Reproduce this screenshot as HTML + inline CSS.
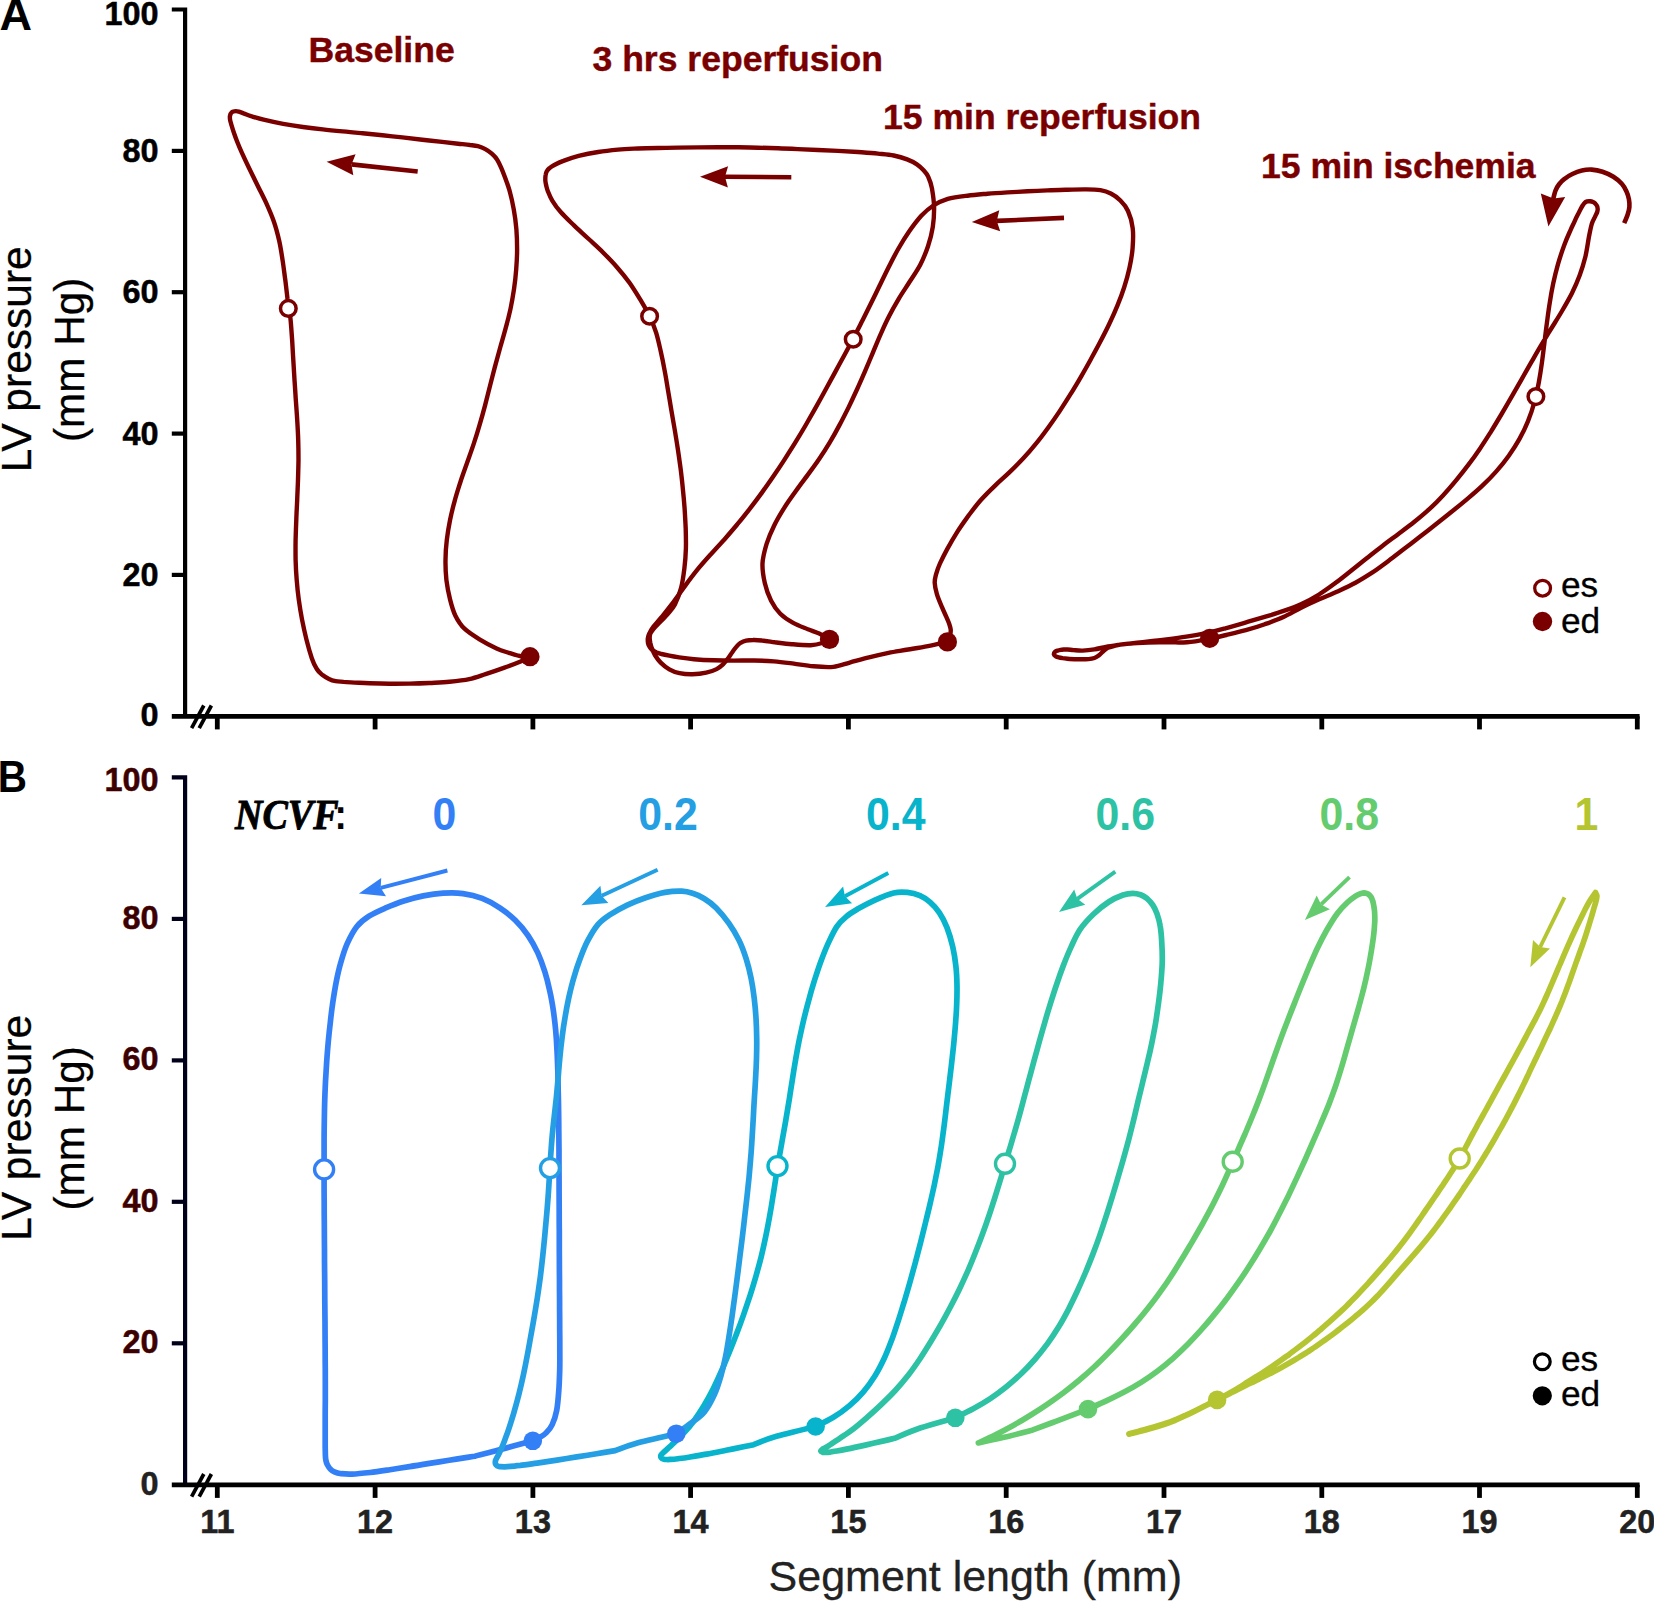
<!DOCTYPE html>
<html lang="en"><head><meta charset="utf-8"><title>LV pressure - segment length loops</title>
<style>html,body{margin:0;padding:0;background:#fff}body{width:1654px;height:1601px;overflow:hidden}svg{display:block}text{font-family:"Liberation Sans",sans-serif}.b{font-weight:bold}.ser{font-family:"Liberation Serif","DejaVu Serif",serif}</style></head><body>
<svg width="1654" height="1601" viewBox="0 0 1654 1601">
<rect width="1654" height="1601" fill="#fff"/>
<path d="M171.8 9.5H185.1V716.3" fill="none" stroke="#000" stroke-width="4.2"/><line x1="171.8" y1="150.9" x2="185.1" y2="150.9" stroke="#000" stroke-width="4.2"/><line x1="171.8" y1="292.2" x2="185.1" y2="292.2" stroke="#000" stroke-width="4.2"/><line x1="171.8" y1="433.6" x2="185.1" y2="433.6" stroke="#000" stroke-width="4.2"/><line x1="171.8" y1="574.9" x2="185.1" y2="574.9" stroke="#000" stroke-width="4.2"/><line x1="171.8" y1="716.3" x2="1639.6" y2="716.3" stroke="#000" stroke-width="4.8"/><line x1="217.3" y1="716.3" x2="217.3" y2="729.4" stroke="#000" stroke-width="4.8"/><line x1="375.1" y1="716.3" x2="375.1" y2="729.4" stroke="#000" stroke-width="4.8"/><line x1="532.9" y1="716.3" x2="532.9" y2="729.4" stroke="#000" stroke-width="4.8"/><line x1="690.6" y1="716.3" x2="690.6" y2="729.4" stroke="#000" stroke-width="4.8"/><line x1="848.4" y1="716.3" x2="848.4" y2="729.4" stroke="#000" stroke-width="4.8"/><line x1="1006.2" y1="716.3" x2="1006.2" y2="729.4" stroke="#000" stroke-width="4.8"/><line x1="1164" y1="716.3" x2="1164" y2="729.4" stroke="#000" stroke-width="4.8"/><line x1="1321.8" y1="716.3" x2="1321.8" y2="729.4" stroke="#000" stroke-width="4.8"/><line x1="1479.5" y1="716.3" x2="1479.5" y2="729.4" stroke="#000" stroke-width="4.8"/><line x1="1637.3" y1="716.3" x2="1637.3" y2="729.4" stroke="#000" stroke-width="4.8"/><line x1="191.6" y1="728.1" x2="203.8" y2="705.5" stroke="#000" stroke-width="3.7"/><line x1="199.2" y1="728.1" x2="211.4" y2="705.5" stroke="#000" stroke-width="3.7"/><text class="b" transform="translate(158.6 25.2) scale(0.995 1)" font-size="32.6" text-anchor="end" fill="#000" stroke="#000" stroke-width="0.5">100</text><text class="b" transform="translate(158.6 162.1) scale(0.995 1)" font-size="32.6" text-anchor="end" fill="#000" stroke="#000" stroke-width="0.5">80</text><text class="b" transform="translate(158.6 302.8) scale(0.995 1)" font-size="32.6" text-anchor="end" fill="#000" stroke="#000" stroke-width="0.5">60</text><text class="b" transform="translate(158.6 444.5) scale(0.995 1)" font-size="32.6" text-anchor="end" fill="#000" stroke="#000" stroke-width="0.5">40</text><text class="b" transform="translate(158.6 585.9) scale(0.995 1)" font-size="32.6" text-anchor="end" fill="#000" stroke="#000" stroke-width="0.5">20</text><text class="b" transform="translate(158.6 725.8) scale(0.995 1)" font-size="32.6" text-anchor="end" fill="#000" stroke="#000" stroke-width="0.5">0</text>
<path d="M171.8 777.4H185.1V1484.8" fill="none" stroke="#00001a" stroke-width="4.2"/><line x1="171.8" y1="918.9" x2="185.1" y2="918.9" stroke="#00001a" stroke-width="4.2"/><line x1="171.8" y1="1060.4" x2="185.1" y2="1060.4" stroke="#00001a" stroke-width="4.2"/><line x1="171.8" y1="1201.8" x2="185.1" y2="1201.8" stroke="#00001a" stroke-width="4.2"/><line x1="171.8" y1="1343.3" x2="185.1" y2="1343.3" stroke="#00001a" stroke-width="4.2"/><line x1="171.8" y1="1484.8" x2="1639.6" y2="1484.8" stroke="#000" stroke-width="4.8"/><line x1="217.3" y1="1484.8" x2="217.3" y2="1497.9" stroke="#000" stroke-width="4.8"/><line x1="375.1" y1="1484.8" x2="375.1" y2="1497.9" stroke="#000" stroke-width="4.8"/><line x1="532.9" y1="1484.8" x2="532.9" y2="1497.9" stroke="#000" stroke-width="4.8"/><line x1="690.6" y1="1484.8" x2="690.6" y2="1497.9" stroke="#000" stroke-width="4.8"/><line x1="848.4" y1="1484.8" x2="848.4" y2="1497.9" stroke="#000" stroke-width="4.8"/><line x1="1006.2" y1="1484.8" x2="1006.2" y2="1497.9" stroke="#000" stroke-width="4.8"/><line x1="1164" y1="1484.8" x2="1164" y2="1497.9" stroke="#000" stroke-width="4.8"/><line x1="1321.8" y1="1484.8" x2="1321.8" y2="1497.9" stroke="#000" stroke-width="4.8"/><line x1="1479.5" y1="1484.8" x2="1479.5" y2="1497.9" stroke="#000" stroke-width="4.8"/><line x1="1637.3" y1="1484.8" x2="1637.3" y2="1497.9" stroke="#000" stroke-width="4.8"/><line x1="191.6" y1="1496.6" x2="203.8" y2="1474" stroke="#000" stroke-width="3.7"/><line x1="199.2" y1="1496.6" x2="211.4" y2="1474" stroke="#000" stroke-width="3.7"/><text class="b" transform="translate(158.6 790.6) scale(0.995 1)" font-size="32.6" text-anchor="end" fill="#3d0000" stroke="#3d0000" stroke-width="0.5">100</text><text class="b" transform="translate(158.6 928.9) scale(0.995 1)" font-size="32.6" text-anchor="end" fill="#3d0000" stroke="#3d0000" stroke-width="0.5">80</text><text class="b" transform="translate(158.6 1069.6) scale(0.995 1)" font-size="32.6" text-anchor="end" fill="#3d0000" stroke="#3d0000" stroke-width="0.5">60</text><text class="b" transform="translate(158.6 1211.8) scale(0.995 1)" font-size="32.6" text-anchor="end" fill="#3d0000" stroke="#3d0000" stroke-width="0.5">40</text><text class="b" transform="translate(158.6 1353.3) scale(0.995 1)" font-size="32.6" text-anchor="end" fill="#3d0000" stroke="#3d0000" stroke-width="0.5">20</text><text class="b" transform="translate(158.6 1495.1) scale(0.995 1)" font-size="32.6" text-anchor="end" fill="#222" stroke="#222" stroke-width="0.5">0</text><text class="b" transform="translate(217.3 1533.2) scale(0.995 1)" font-size="32.6" text-anchor="middle" fill="#222" stroke="#222" stroke-width="0.5">11</text><text class="b" transform="translate(375.1 1533.2) scale(0.995 1)" font-size="32.6" text-anchor="middle" fill="#222" stroke="#222" stroke-width="0.5">12</text><text class="b" transform="translate(532.9 1533.2) scale(0.995 1)" font-size="32.6" text-anchor="middle" fill="#222" stroke="#222" stroke-width="0.5">13</text><text class="b" transform="translate(690.6 1533.2) scale(0.995 1)" font-size="32.6" text-anchor="middle" fill="#222" stroke="#222" stroke-width="0.5">14</text><text class="b" transform="translate(848.4 1533.2) scale(0.995 1)" font-size="32.6" text-anchor="middle" fill="#222" stroke="#222" stroke-width="0.5">15</text><text class="b" transform="translate(1006.2 1533.2) scale(0.995 1)" font-size="32.6" text-anchor="middle" fill="#222" stroke="#222" stroke-width="0.5">16</text><text class="b" transform="translate(1164 1533.2) scale(0.995 1)" font-size="32.6" text-anchor="middle" fill="#222" stroke="#222" stroke-width="0.5">17</text><text class="b" transform="translate(1321.8 1533.2) scale(0.995 1)" font-size="32.6" text-anchor="middle" fill="#222" stroke="#222" stroke-width="0.5">18</text><text class="b" transform="translate(1479.5 1533.2) scale(0.995 1)" font-size="32.6" text-anchor="middle" fill="#222" stroke="#222" stroke-width="0.5">19</text><text class="b" transform="translate(1637.3 1533.2) scale(0.995 1)" font-size="32.6" text-anchor="middle" fill="#222" stroke="#222" stroke-width="0.5">20</text>
<text transform="translate(31 359.3) rotate(-90)" font-size="42.8" text-anchor="middle" fill="#000" stroke="#000" stroke-width="0.3" textLength="226" lengthAdjust="spacingAndGlyphs">LV pressure</text><text transform="translate(83.5 359.8) rotate(-90)" font-size="42.3" text-anchor="middle" fill="#000" stroke="#000" stroke-width="0.3">(mm Hg)</text>
<text transform="translate(31 1127.8) rotate(-90)" font-size="42.8" text-anchor="middle" fill="#000" stroke="#000" stroke-width="0.3" textLength="226" lengthAdjust="spacingAndGlyphs">LV pressure</text><text transform="translate(83.5 1128.3) rotate(-90)" font-size="42.3" text-anchor="middle" fill="#000" stroke="#000" stroke-width="0.3">(mm Hg)</text>
<text class="b" x="-0.6" y="29.6" font-size="45" fill="#000">A</text>
<text class="b" transform="translate(-2.2 791.6) scale(0.9 1)" font-size="45" fill="#000">B</text>
<text x="975.3" y="1590.5" font-size="43" text-anchor="middle" fill="#222" stroke="#222" stroke-width="0.3">Segment length (mm)</text>
<path d="M530 656.7C528.5 657.4 525.4 659.4 521.2 661.2C516.9 663 510.4 665.5 504.5 667.6C498.5 669.8 491.4 672.2 485.5 674.1C479.7 676 475.3 677.8 469.3 679.1C463.3 680.4 456.1 681.1 449.5 681.7C442.9 682.3 436.2 682.6 429.6 683C422.9 683.3 416.2 683.5 409.6 683.6C402.9 683.7 396.2 683.8 389.6 683.7C382.9 683.7 375.4 683.5 369.6 683.3C363.7 683.1 358.9 682.8 354.6 682.6C350.2 682.4 346.7 682.1 343.6 681.9C340.4 681.6 338.1 681.6 335.6 681.1C333.2 680.6 331.3 680 329 678.9C326.8 677.9 324.2 676.4 322.2 674.8C320.2 673.1 318.5 671.8 316.8 669C315 666.3 313.5 663.2 311.8 658.2C310.1 653.2 307.9 645.4 306.3 639C304.7 632.5 303.3 626 302 619.4C300.8 612.9 299.7 606.3 298.8 599.7C297.9 593.1 297.2 586.4 296.7 579.8C296.1 573.1 295.8 566.5 295.6 559.8C295.5 553.2 295.5 546.5 295.6 539.8C295.8 533.2 296 526.5 296.3 519.8C296.5 513.2 296.9 506.5 297.2 499.8C297.4 493.2 297.8 486.5 298 479.9C298.2 473.2 298.4 466.5 298.5 459.9C298.5 453.2 298.4 446.5 298.2 439.9C298 433.2 297.6 426.6 297.2 419.9C296.8 413.2 296.3 406.6 295.8 399.9C295.4 393.3 295 386.6 294.5 380C294.1 373.3 293.7 366.5 293.3 360C292.9 353.5 292.5 346.5 292.2 341C291.8 335.6 291.5 331.1 291.2 327.1C290.9 323.1 290.7 320.1 290.3 317.2C289.9 314.2 289.5 312.5 289 309.4C288.6 306.3 288.2 303.4 287.5 298.7C286.9 293.9 286.2 287.1 285.4 280.8C284.5 274.5 283.7 267.5 282.7 261C281.7 254.4 280.7 247.7 279.3 241.3C277.8 234.8 276.2 228.4 274 222.1C271.9 215.8 269.2 209.7 266.5 203.7C263.8 197.6 260.6 191.7 257.7 185.7C254.8 179.7 251.6 173.2 248.9 167.7C246.2 162.1 243.7 156.7 241.7 152.3C239.7 147.9 238.3 144.5 237 141.2C235.7 138 234.7 135.2 233.9 132.8C233.1 130.4 232.6 128.8 232.1 127.1C231.5 125.3 231 123.6 230.7 122.3C230.3 121 230.2 120.3 230 119.3C229.9 118.4 229.8 117.3 229.9 116.3C230.1 115.4 230.3 114.3 230.8 113.5C231.4 112.7 232.2 112 233.1 111.6C233.9 111.2 235 111.1 236 111.1C237 111.1 237.6 111.3 238.9 111.7C240.2 112.1 241.6 112.6 243.6 113.4C245.7 114.1 247.8 115.1 251.1 116.2C254.5 117.2 258.3 118.4 263.6 119.7C269 121 276.6 122.7 283.2 123.9C289.7 125.1 296.3 126.1 302.9 127C309.5 127.9 316.1 128.7 322.8 129.4C329.4 130.2 336 130.8 342.7 131.4C349.3 132.1 356 132.7 362.6 133.3C369.2 134 375.9 134.6 382.5 135.3C389.1 136 395.8 136.7 402.4 137.4C409 138.1 415.6 138.9 422.3 139.7C428.9 140.4 436.2 141.3 442.1 141.9C448.1 142.6 453.4 143.2 458.1 143.7C462.7 144.2 466.7 144.5 470 145C473.3 145.4 475.3 145.5 477.9 146.2C480.4 146.9 482.9 147.8 485.3 149.1C487.6 150.3 489.9 151.9 491.8 153.6C493.8 155.4 495.3 156.6 497.1 159.6C498.9 162.5 500.6 166.2 502.7 171.3C504.7 176.4 507.5 183.8 509.4 190.1C511.2 196.5 512.6 203 513.8 209.6C515 216.1 515.8 222.8 516.4 229.4C516.9 236 517.1 242.7 517.1 249.4C517.1 256 516.7 262.7 516.2 269.4C515.7 276 515 282.6 514 289.2C513 295.8 511.9 302.4 510.5 308.9C509.1 315.4 507.4 321.9 505.6 328.3C503.9 334.7 502 341.1 500.2 347.5C498.4 354 496.6 360.4 494.9 366.8C493.2 373.3 491.6 379.7 489.9 386.2C488.3 392.7 486.7 399.1 485 405.6C483.3 412 481.5 418.5 479.6 424.9C477.8 431.2 475.8 437.6 473.7 443.9C471.6 450.3 469.3 456.5 467.1 462.8C464.9 469.1 462.6 475.4 460.5 481.7C458.5 488.1 456.4 494.4 454.7 500.9C452.9 507.3 451.3 513.8 450 520.3C448.7 526.8 447.6 533.4 446.8 540.1C446 546.7 445.5 553.4 445.5 560C445.4 566.7 445.7 573.4 446.4 580C447.2 586.6 448.6 593.6 450.1 599.6C451.6 605.5 453 610.8 455.4 615.7C457.8 620.5 460.3 624.7 464.5 628.7C468.7 632.8 475.4 636.8 480.8 640.1C486.1 643.4 491.9 646.3 496.6 648.4C501.3 650.6 505.5 651.7 509 652.9C512.5 654 515 654.8 517.6 655.5C520.2 656.2 522.3 656.8 524.4 657.1C526.4 657.3 529.1 656.8 530 656.7" fill="none" stroke="#7a0000" stroke-width="4.4" stroke-linejoin="round" stroke-linecap="round"/>
<path d="M829.5 639.4C828.3 640 825.5 642.1 822.4 643C819.3 644 815.8 645 810.7 645.2C805.6 645.4 797.8 644.7 791.8 644.2C785.8 643.7 779.9 642.9 774.9 642.3C770 641.6 765.7 640.8 762 640.5C758.4 640.1 755.7 639.9 753.1 640C750.4 640 748.2 640.1 746.1 640.6C744 641.1 742.3 641.8 740.6 642.8C739 643.9 737.7 645.2 736.3 646.9C734.9 648.5 733.4 650.6 732.1 652.5C730.7 654.4 729.6 656.3 728.1 658.3C726.6 660.3 724.9 662.6 723 664.4C721.1 666.2 719.4 667.7 716.6 669.1C713.8 670.5 710.3 671.9 706.2 672.7C702.2 673.6 696.8 674.2 692.4 674.3C687.9 674.4 683.4 674 679.5 673.1C675.7 672.3 672.4 671.1 669.3 669.3C666.1 667.5 663 664.9 660.7 662.6C658.4 660.3 656.7 657.9 655.2 655.5C653.7 653.1 652.7 650.4 651.8 648.2C651 646.1 650.6 644.2 650.2 642.4C649.9 640.6 649.6 638.9 649.7 637.4C649.7 636 649.8 634.9 650.3 633.6C650.9 632.3 651.7 631.1 653 629.5C654.4 627.8 656.1 626.2 658.6 623.6C661 621.1 664.8 617.3 667.5 614.2C670.2 611 672.5 609 674.8 604.7C677 600.3 679.5 594 681.1 587.9C682.7 581.9 683.6 574.9 684.4 568.3C685.2 561.7 685.7 555.1 685.9 548.4C686.1 541.8 685.9 535 685.7 528.4C685.4 521.7 685 515 684.6 508.4C684.1 501.7 683.5 495.1 682.8 488.5C682.2 481.8 681.4 475.2 680.6 468.6C679.7 462 678.8 455.4 677.8 448.8C676.8 442.2 675.7 435.6 674.6 429C673.5 422.5 672.3 415.9 671.2 409.3C670.1 402.7 669 396.2 667.9 389.6C666.8 383 665.8 376.4 664.5 369.9C663.3 363.3 661.9 356.5 660.5 350.3C659.1 344.1 657.9 338.4 656.2 332.8C654.4 327.3 652.7 322.6 650 317C647.4 311.5 643.7 305.3 640.3 299.6C636.8 293.9 633.3 288.2 629.5 282.8C625.6 277.4 621.4 272.2 617 267.2C612.7 262.2 608 257.4 603.3 252.7C598.6 248 593.5 243.5 588.7 239C583.8 234.4 578.7 229.9 574 225.4C569.4 220.9 564.3 216.1 560.7 212C557 207.9 554.5 204.2 552.4 200.8C550.3 197.4 549.1 194.4 548.1 191.8C547 189.2 546.6 187 546.1 185.1C545.7 183.1 545.4 181.8 545.3 180.1C545.3 178.4 545.3 176.6 545.6 175.1C545.8 173.7 546.2 172.5 546.8 171.3C547.4 170.2 548 169.4 549.3 168.3C550.5 167.2 551.9 166.3 554.3 165C556.6 163.8 559.3 162.4 563.4 160.9C567.4 159.3 572.8 157.3 578.6 155.8C584.4 154.4 591.6 153 598.2 152C604.8 150.9 611.4 150.2 618 149.6C624.6 149 631.3 148.8 638 148.5C644.6 148.2 651.3 148.1 658 148C664.6 147.8 671.3 147.7 678 147.6C684.6 147.5 691.3 147.4 698 147.4C704.6 147.3 711.3 147.3 718 147.2C724.6 147.2 731.3 147.3 738 147.3C744.6 147.4 751.3 147.5 758 147.7C764.6 147.9 771.3 148.1 778 148.3C784.6 148.5 791.3 148.8 797.9 149.1C804.6 149.4 811.3 149.7 817.9 150C824.6 150.3 831.3 150.6 837.9 150.9C844.6 151.3 851.3 151.6 857.9 152C864.6 152.5 871.9 153 877.9 153.6C883.8 154.2 888.9 154.5 893.7 155.5C898.6 156.5 903.3 157.9 907.1 159.4C911 160.9 914.1 162.5 916.9 164.3C919.6 166.1 921.7 168.2 923.6 170.2C925.5 172.3 926.9 173.7 928.2 176.7C929.6 179.7 930.9 183.1 931.9 188.1C932.8 193.2 933.9 200.6 934.1 207C934.2 213.5 933.8 220.4 932.8 226.9C931.8 233.4 930.1 239.9 928 246.2C925.9 252.4 923.4 258.6 920.4 264.5C917.4 270.4 913.4 275.9 909.8 281.5C906.3 287.1 902.4 292.6 899 298.3C895.6 304 892.3 309.8 889.3 315.8C886.2 321.7 883.5 327.8 880.8 333.8C878.1 339.9 875.6 346.1 873 352.3C870.4 358.4 867.9 364.6 865.3 370.7C862.6 376.9 860 383 857.2 389C854.4 395.1 851.6 401.1 848.7 407.1C845.7 413.1 842.7 419.1 839.6 424.9C836.5 430.8 833.2 436.7 829.8 442.4C826.4 448.1 822.8 453.7 819 459.2C815.3 464.7 811.3 470 807.4 475.4C803.4 480.8 799.3 486.1 795.5 491.6C791.6 497 787.7 502.4 784.1 508.1C780.6 513.7 777.1 519.5 774.2 525.5C771.3 531.4 768.6 537.6 766.6 543.9C764.7 550.2 762.8 556.9 762.5 563.4C762.2 569.9 763.4 576.8 764.8 583.1C766.2 589.3 768.5 595.7 771.1 600.8C773.7 605.9 776.6 610.1 780.3 613.8C784 617.5 788.6 620.4 793.2 622.9C797.8 625.5 803.6 627.5 807.9 629.3C812.3 631 815.7 631.9 819.2 633.5C822.6 635.1 826.9 637.9 828.7 638.9C830.4 639.8 829.4 639.3 829.5 639.4" fill="none" stroke="#7a0000" stroke-width="4.4" stroke-linejoin="round" stroke-linecap="round"/>
<path d="M947.4 641.9C944.1 642.6 934.4 644.9 927.9 646.1C921.3 647.4 914.8 648.4 908.2 649.5C901.6 650.7 895 651.6 888.5 652.9C882 654.3 875.5 655.8 869 657.4C862.6 659 855.7 661 849.7 662.6C843.8 664.2 839.3 666.2 833.3 666.9C827.3 667.5 820.1 666.9 813.5 666.3C806.9 665.8 800.4 664.5 793.8 663.6C787.2 662.8 780.5 661.9 773.9 661.4C767.3 660.9 760.6 660.6 754 660.5C747.3 660.4 740.6 660.6 734 660.6C727.3 660.5 720.6 660.5 714 660.3C707.3 660.1 699.8 659.7 694 659.2C688.2 658.7 683.2 658 679.1 657.4C675 656.8 672.2 656.3 669.3 655.7C666.3 655.1 663.5 654.5 661.4 654C659.3 653.4 658.2 653.1 656.7 652.5C655.1 651.8 653.5 651 652.3 650.1C651.1 649.2 650.4 648.2 649.7 647.1C649 646.1 648.4 644.9 648.1 643.5C647.8 642.1 647.7 640.2 647.8 638.5C648 636.9 648.2 635.7 649.2 633.8C650.1 631.8 651.2 629.7 653.3 626.9C655.4 624.1 658.2 621.2 661.7 617C665.1 612.7 670 606.6 674 601.3C678 596 681.7 590.4 685.6 585.1C689.6 579.7 693.6 574.4 697.8 569.2C702 564.1 706.5 559.1 710.9 554.2C715.3 549.2 719.9 544.3 724.4 539.4C728.8 534.4 733.1 529.3 737.4 524.2C741.7 519.1 745.8 513.9 749.9 508.6C754 503.3 758 498 761.9 492.6C765.8 487.2 769.6 481.7 773.4 476.2C777.2 470.7 780.9 465.2 784.5 459.6C788.1 454 791.7 448.4 795.2 442.7C798.7 437 802.1 431.3 805.5 425.5C808.8 419.8 812.1 414 815.4 408.2C818.6 402.4 821.8 396.5 825 390.7C828.2 384.8 831.4 378.9 834.6 373.1C837.8 367.2 841 361.4 844.2 355.5C847.3 349.7 850.5 343.8 853.6 337.9C856.7 332 859.7 326 862.7 320.1C865.7 314.1 868.6 308.1 871.5 302.2C874.5 296.2 877.4 290.2 880.3 284.2C883.2 278.2 886.1 272.2 889.1 266.2C892.2 260.2 895.2 254.2 898.5 248.5C901.8 242.7 905.3 237 909.1 231.5C912.9 226.1 917.3 220.2 921.3 215.8C925.4 211.5 929 208.3 933.4 205.5C937.8 202.7 942.2 200.6 947.8 198.9C953.5 197.3 960.9 196.5 967.5 195.7C974.1 194.8 980.8 194.3 987.5 193.7C994.1 193.2 1000.8 192.8 1007.5 192.4C1014.1 192 1020.8 191.7 1027.4 191.3C1034.1 191 1040.8 190.7 1047.5 190.4C1054.1 190.1 1061 189.9 1067.5 189.7C1074 189.5 1081 189.3 1086.5 189.4C1092 189.4 1096.3 189.5 1100.4 190.2C1104.5 190.9 1107.5 191.8 1110.8 193.5C1114.2 195.2 1117.6 197.6 1120.4 200.5C1123.3 203.4 1126 206.4 1128 211C1130.1 215.6 1132 222.1 1132.7 228.3C1133.5 234.4 1133.1 241.5 1132.6 248.1C1132.1 254.7 1130.9 261.3 1129.5 267.8C1128.1 274.3 1126.3 280.8 1124.2 287.2C1122.2 293.5 1119.8 299.8 1117.3 305.9C1114.8 312.1 1112 318.2 1109.1 324.2C1106.3 330.2 1103.2 336.1 1100.1 342C1097 348 1093.8 353.8 1090.6 359.7C1087.4 365.5 1084.1 371.3 1080.8 377.1C1077.4 382.8 1074 388.6 1070.5 394.2C1067 399.9 1063.4 405.5 1059.7 411.1C1056 416.6 1052.2 422.1 1048.3 427.5C1044.4 432.9 1040.4 438.3 1036.2 443.4C1032 448.6 1027.7 453.7 1023.1 458.6C1018.6 463.4 1013.8 468.2 1009.1 472.7C1004.4 477.2 999.7 481.1 995.1 485.6C990.4 490.1 985.5 494.8 981.1 499.8C976.7 504.7 972.7 510.1 968.7 515.4C964.8 520.8 960.9 526.3 957.3 531.9C953.8 537.5 950.1 543.9 947.2 549.1C944.3 554.4 941.9 559.3 940 563.4C938.2 567.5 937.1 570.6 936.2 573.8C935.4 576.9 934.6 579.2 934.7 582.6C934.8 586 935.7 590.1 936.9 594.2C938.1 598.3 940.4 603.5 942 607.2C943.5 610.9 944.9 613.6 946.1 616.4C947.3 619.1 948.4 621.6 949.2 623.8C949.9 626 950.5 627.8 950.7 629.5C950.9 631.3 950.6 632.8 950.3 634.4C949.9 636 949.1 637.9 948.6 639.1C948.2 640.4 947.6 641.4 947.4 641.9" fill="none" stroke="#7a0000" stroke-width="4.4" stroke-linejoin="round" stroke-linecap="round"/>
<path d="M1429.6 508.9C1424.8 513.3 1419.6 517.6 1414.4 521.8C1409.2 526 1403.8 529.9 1398.4 533.9C1393.1 537.9 1387.7 541.8 1382.4 545.9C1377.1 549.9 1371.9 554.1 1366.7 558.2C1361.5 562.3 1356.3 566.6 1351.1 570.7C1345.9 574.9 1340.7 579.1 1335.3 583.1C1330 587 1324.6 591 1319 594.5C1313.3 598 1307.5 601.2 1301.5 604C1295.5 606.8 1289.2 609 1282.9 611.2C1276.6 613.4 1270.2 615.2 1263.8 617.2C1257.4 619.1 1251 621 1244.6 622.8C1238.2 624.7 1231.8 626.6 1225.4 628.3C1218.9 630 1212.5 631.7 1206 633.1C1199.5 634.4 1192.9 635.6 1186.3 636.6C1179.7 637.7 1173.1 638.6 1166.5 639.5C1159.9 640.3 1153.3 641 1146.6 641.7C1140 642.5 1133.2 643.1 1126.8 643.9C1120.4 644.7 1113.4 645.5 1108 646.4C1102.6 647.4 1098.6 648.7 1094.4 649.4C1090.1 650.1 1086 650.5 1082.6 650.6C1079.1 650.7 1076.1 650.3 1073.6 650.1C1071.1 649.9 1069.3 649.6 1067.6 649.5C1066 649.4 1064.8 649.5 1063.6 649.5C1062.5 649.6 1061.6 649.7 1060.7 649.9C1059.7 650.1 1058.7 650.3 1057.7 650.6C1056.8 650.9 1055.7 651.2 1055 651.9C1054.4 652.5 1053.8 653.6 1053.9 654.4C1054 655.1 1055 655.9 1055.8 656.4C1056.6 656.9 1057.6 657.1 1058.7 657.3C1059.8 657.6 1060.8 657.8 1062.6 658.1C1064.4 658.3 1066.6 658.8 1069.6 659C1072.6 659.2 1077.4 659.3 1080.6 659.3C1083.7 659.3 1086.3 659.3 1088.6 659.1C1090.9 658.9 1092.7 658.6 1094.4 658C1096.1 657.4 1097.3 656.7 1098.7 655.6C1100.1 654.5 1101.5 652.7 1103.1 651.5C1104.6 650.2 1105.8 648.9 1107.8 647.9C1109.9 646.9 1112 646.3 1115.4 645.5C1118.8 644.8 1122.8 644.1 1128.2 643.6C1133.7 643.1 1141.5 642.7 1148.2 642.5C1154.9 642.3 1161.7 642.4 1168.2 642.4C1174.7 642.3 1180.7 642.7 1187.1 642.2C1193.6 641.7 1200.3 640.5 1206.8 639.3C1213.3 638.1 1219.9 636.5 1226.4 635C1232.8 633.5 1239.4 632 1245.8 630.2C1252.2 628.4 1258.6 626.4 1264.8 624.2C1271.1 622 1277.4 619.8 1283.4 617C1289.5 614.3 1295.1 610.7 1301.1 607.8C1307 604.8 1313.1 602 1319.2 599.3C1325.2 596.6 1331.4 594.2 1337.5 591.4C1343.6 588.6 1349.6 585.9 1355.5 582.7C1361.3 579.6 1366.9 576 1372.5 572.4C1378 568.7 1383.3 564.7 1388.7 560.7C1394.1 556.7 1399.3 552.6 1404.6 548.6C1409.9 544.5 1415.2 540.4 1420.5 536.3C1425.7 532.2 1431 528.1 1436.2 524C1441.4 519.9 1446.7 515.7 1451.9 511.5C1457.1 507.4 1462.3 503.2 1467.4 498.9C1472.5 494.6 1477.6 490.3 1482.4 485.7C1487.3 481.1 1491.9 476.4 1496.3 471.4C1500.7 466.4 1504.9 461.2 1508.8 455.7C1512.6 450.3 1516.3 444.7 1519.5 438.9C1522.7 433.1 1525.6 427.1 1528.1 420.9C1530.6 414.8 1532.7 408.4 1534.4 402C1536.2 395.6 1537.6 389 1538.8 382.5C1540 375.9 1541 369.3 1541.9 362.7C1542.8 356.1 1543.6 349.5 1544.4 342.9C1545.2 336.2 1546 329.6 1546.9 323C1547.8 316.4 1548.6 309.8 1549.7 303.2C1550.7 296.6 1551.8 290 1553.2 283.5C1554.6 277 1556.2 270.5 1558 264.1C1559.9 257.7 1562.2 250.6 1564.2 245.2C1566.2 239.7 1568.2 235.3 1570 231.3C1571.7 227.3 1573.3 224.2 1574.6 221.3C1575.9 218.4 1577 216.2 1578.1 214.1C1579.1 212 1580 210.2 1580.8 208.7C1581.6 207.3 1582.2 206.2 1582.8 205.3C1583.4 204.3 1583.9 203.5 1584.6 202.9C1585.3 202.2 1586.2 201.7 1587.1 201.4C1588 201.2 1589.1 201.2 1590.1 201.3C1591 201.4 1592.1 201.7 1593 202.1C1593.9 202.5 1594.8 203 1595.4 203.7C1596.1 204.4 1596.7 205.3 1597.1 206.2C1597.5 207.1 1597.6 208.1 1597.7 209.1C1597.7 210.1 1597.6 210.8 1597.2 212C1596.8 213.3 1596 214.6 1595.1 216.6C1594.2 218.6 1592.8 220.6 1591.8 223.9C1590.8 227.2 1590.1 231.1 1589 236.5C1588 241.9 1587 249.8 1585.5 256.2C1583.9 262.7 1582 269 1579.7 275.2C1577.4 281.4 1574.7 287.5 1571.8 293.5C1568.8 299.4 1565.4 305.2 1562 311C1558.7 316.7 1555.1 322.3 1551.6 328C1548.1 333.7 1544.7 339.4 1541.2 345.2C1537.8 350.9 1534.5 356.7 1531.2 362.4C1527.9 368.2 1524.6 374 1521.3 379.8C1518 385.6 1514.7 391.4 1511.4 397.2C1508.1 403 1504.7 408.8 1501.3 414.5C1497.9 420.2 1494.5 425.9 1491 431.6C1487.4 437.3 1483.9 442.9 1480.1 448.4C1476.4 453.9 1472.5 459.4 1468.5 464.7C1464.5 470 1460.4 475.2 1456.1 480.4C1451.9 485.5 1447.4 490.7 1443 495.4C1438.6 500.2 1434.4 504.5 1429.6 508.9Z" fill="none" stroke="#7a0000" stroke-width="4.4" stroke-linejoin="round" stroke-linecap="round"/>
<circle cx="288.3" cy="308.4" r="7.8" fill="#fff" stroke="#7a0000" stroke-width="3.5"/>
<circle cx="649.6" cy="316.3" r="7.8" fill="#fff" stroke="#7a0000" stroke-width="3.5"/>
<circle cx="853.2" cy="339.2" r="7.8" fill="#fff" stroke="#7a0000" stroke-width="3.5"/>
<circle cx="1535.9" cy="396.6" r="7.8" fill="#fff" stroke="#7a0000" stroke-width="3.5"/>
<circle cx="530" cy="656.7" r="9.6" fill="#7a0000"/>
<circle cx="829.5" cy="639.4" r="9.6" fill="#7a0000"/>
<circle cx="947.4" cy="641.9" r="9.6" fill="#7a0000"/>
<circle cx="1209.7" cy="638.3" r="9.6" fill="#7a0000"/>
<line x1="417.7" y1="171.5" x2="351.5" y2="164.4" stroke="#7a0000" stroke-width="4.6"/><path d="M326.6 161.8L355.6 154.2L351.5 164.4L353.3 175.3Z" fill="#7a0000"/>
<line x1="791.3" y1="177.2" x2="725" y2="176.8" stroke="#7a0000" stroke-width="4.6"/><path d="M700 176.7L728.1 166.3L725 176.8L727.9 187.5Z" fill="#7a0000"/>
<line x1="1064" y1="217.9" x2="996.8" y2="220.9" stroke="#7a0000" stroke-width="4.6"/><path d="M971.8 222L999.3 210.2L996.8 220.9L1000.2 231.3Z" fill="#7a0000"/>
<path d="M1624.2 223.1C1624.8 221.7 1626.7 217.4 1627.6 214.7C1628.5 212 1629.2 209.6 1629.4 207C1629.6 204.4 1629.4 201.7 1628.9 199.1C1628.4 196.4 1627.7 193.9 1626.5 191.4C1625.3 188.8 1624 186.1 1621.8 183.7C1619.7 181.3 1616.6 178.7 1613.4 176.7C1610.2 174.7 1606.1 172.9 1602.5 171.7C1598.9 170.5 1595.2 169.8 1591.7 169.6C1588.3 169.4 1585.1 169.8 1581.8 170.6C1578.6 171.3 1575.3 172.6 1572.4 174C1569.6 175.3 1567 176.9 1564.8 178.7C1562.5 180.4 1560.6 182.4 1559.1 184.3C1557.6 186.2 1556.5 188.2 1555.6 190.3C1554.7 192.4 1554.1 195.6 1553.7 197C1553.3 198.5 1553.4 198.7 1553.3 199" fill="none" stroke="#7a0000" stroke-width="4.6"/>
<path d="M1548.4 226.4L1540.8 193.6L1553.6 198.6L1565.2 197Z" fill="#7a0000"/>
<text class="b" transform="translate(308.5 61.8) scale(1.016 1)" font-size="35" fill="#7a0000" stroke="#7a0000" stroke-width="0.4">Baseline</text>
<text class="b" transform="translate(592.5 71.1) scale(1.016 1)" font-size="35" fill="#7a0000" stroke="#7a0000" stroke-width="0.4">3 hrs reperfusion</text>
<text class="b" transform="translate(883 128.5) scale(1.016 1)" font-size="35" fill="#7a0000" stroke="#7a0000" stroke-width="0.4">15 min reperfusion</text>
<text class="b" transform="translate(1261 177.6) scale(1.016 1)" font-size="35" fill="#7a0000" stroke="#7a0000" stroke-width="0.4">15 min ischemia</text>
<circle cx="1542.6" cy="588.2" r="7.9" fill="#fff" stroke="#7a0000" stroke-width="3.3"/>
<circle cx="1542.5" cy="621.5" r="9.7" fill="#7a0000"/>
<text x="1560.9" y="597.1" font-size="35.3" fill="#000" stroke="#000" stroke-width="0.3">es</text>
<text x="1560.9" y="632.5" font-size="35.3" fill="#000" stroke="#000" stroke-width="0.3">ed</text>
<path d="M1129 1433.7C1130.6 1433.3 1135.5 1432 1138.7 1431.2C1141.9 1430.3 1145.1 1429.5 1148.4 1428.6C1151.6 1427.7 1154.8 1426.8 1158 1425.8C1161.2 1424.8 1164.3 1423.8 1167.5 1422.7C1170.6 1421.6 1173.7 1420.3 1176.8 1419.1C1179.9 1417.8 1182.9 1416.4 1186 1415.1C1189 1413.7 1192 1412.3 1195 1410.9C1198 1409.4 1201 1408 1204 1406.5C1207 1405 1210 1403.5 1213 1402C1216 1400.5 1218.9 1399 1221.9 1397.4C1224.8 1395.8 1227.7 1394.2 1230.6 1392.5C1233.5 1390.8 1236.3 1389.1 1239.2 1387.3C1242 1385.6 1244.8 1383.8 1247.7 1382C1250.5 1380.3 1253.3 1378.5 1256.1 1376.7C1259 1374.9 1261.8 1373.2 1264.6 1371.3C1267.4 1369.5 1270.1 1367.7 1272.9 1365.8C1275.7 1363.9 1278.4 1362 1281.1 1360.1C1283.9 1358.2 1286.6 1356.2 1289.3 1354.3C1291.9 1352.3 1294.6 1350.3 1297.3 1348.3C1299.9 1346.3 1302.6 1344.2 1305.2 1342.2C1307.8 1340.1 1310.4 1338 1313 1335.9C1315.6 1333.8 1318.1 1331.6 1320.7 1329.5C1323.2 1327.3 1325.7 1325.1 1328.2 1322.9C1330.7 1320.7 1333.2 1318.5 1335.7 1316.2C1338.1 1314 1340.6 1311.7 1343 1309.4C1345.4 1307.1 1347.7 1304.7 1350.1 1302.4C1352.4 1300 1354.8 1297.6 1357.1 1295.2C1359.4 1292.8 1361.7 1290.3 1363.9 1287.9C1366.2 1285.5 1368.4 1283 1370.7 1280.5C1372.9 1278 1375.1 1275.5 1377.3 1273C1379.5 1270.5 1381.7 1268 1383.9 1265.5C1386.1 1263 1388.2 1260.4 1390.4 1257.9C1392.5 1255.3 1394.6 1252.7 1396.7 1250.1C1398.8 1247.5 1400.9 1244.9 1402.9 1242.3C1404.9 1239.6 1406.9 1236.9 1408.9 1234.2C1410.9 1231.6 1412.8 1228.8 1414.7 1226.1C1416.6 1223.4 1418.5 1220.6 1420.4 1217.9C1422.3 1215.1 1424.2 1212.4 1426 1209.6C1427.9 1206.9 1429.8 1204.1 1431.7 1201.4C1433.6 1198.6 1435.5 1195.9 1437.4 1193.1C1439.2 1190.3 1441.1 1187.6 1443 1184.8C1444.8 1182 1446.7 1179.3 1448.5 1176.5C1450.3 1173.7 1452.1 1170.9 1453.9 1168.1C1455.7 1165.2 1457.4 1162.4 1459.1 1159.5C1460.7 1156.6 1462.3 1153.7 1463.9 1150.7C1465.5 1147.8 1466.9 1144.8 1468.5 1141.8C1470 1138.9 1471.6 1135.9 1473.2 1133C1474.7 1130.1 1476.4 1127.1 1478 1124.2C1479.6 1121.3 1481.2 1118.4 1482.8 1115.5C1484.4 1112.5 1486.1 1109.6 1487.7 1106.7C1489.3 1103.8 1490.9 1100.9 1492.5 1097.9C1494.1 1095 1495.7 1092.1 1497.3 1089.2C1498.9 1086.2 1500.5 1083.3 1502.1 1080.4C1503.7 1077.5 1505.4 1074.6 1507 1071.6C1508.6 1068.7 1510.2 1065.8 1511.8 1062.9C1513.4 1060 1515 1057 1516.6 1054.1C1518.2 1051.2 1519.8 1048.2 1521.4 1045.3C1522.9 1042.4 1524.5 1039.4 1526.1 1036.5C1527.6 1033.5 1529.2 1030.6 1530.8 1027.6C1532.4 1024.7 1533.9 1021.8 1535.5 1018.8C1537 1015.9 1538.5 1012.9 1540 1009.9C1541.5 1006.9 1542.9 1003.9 1544.3 1000.8C1545.7 997.8 1547 994.8 1548.4 991.7C1549.7 988.7 1551 985.6 1552.3 982.5C1553.6 979.4 1554.9 976.4 1556.2 973.3C1557.5 970.2 1558.7 967.1 1560.1 964.1C1561.4 961 1562.7 957.9 1564 954.9C1565.4 951.8 1566.7 948.7 1568 945.7C1569.4 942.6 1570.7 939.6 1572.1 936.5C1573.5 933.5 1574.9 930.5 1576.3 927.5C1577.8 924.5 1579.2 921.5 1580.7 918.5C1582.2 915.5 1583.6 912.5 1585.1 909.5C1586.6 906.5 1588.2 903.6 1589.9 900.7C1591.6 897.9 1594.6 893.9 1595.5 892.5C1595.7 893.1 1596.8 894.5 1596.9 895.8C1597 897.2 1596.6 898.7 1596.2 900.6C1595.7 902.5 1595 904.8 1594.2 907.3C1593.5 909.9 1592.6 912.9 1591.7 916C1590.8 919 1589.8 922.4 1588.8 925.6C1587.8 928.8 1586.8 931.9 1585.8 935.1C1584.8 938.3 1583.7 941.4 1582.6 944.6C1581.5 947.7 1580.3 950.8 1579.2 954C1578.1 957.1 1576.9 960.3 1575.8 963.4C1574.7 966.5 1573.6 969.7 1572.5 972.8C1571.4 976 1570.3 979.1 1569.2 982.3C1568 985.4 1566.9 988.5 1565.7 991.7C1564.5 994.8 1563.3 997.9 1562.1 1001C1560.8 1004.1 1559.6 1007.1 1558.3 1010.2C1557 1013.3 1555.6 1016.3 1554.2 1019.4C1552.9 1022.4 1551.5 1025.4 1550.1 1028.5C1548.7 1031.5 1547.2 1034.5 1545.8 1037.5C1544.4 1040.5 1543 1043.6 1541.6 1046.6C1540.2 1049.6 1538.7 1052.6 1537.3 1055.6C1535.9 1058.6 1534.4 1061.6 1533 1064.6C1531.5 1067.6 1530.1 1070.6 1528.7 1073.7C1527.2 1076.7 1525.8 1079.7 1524.4 1082.7C1522.9 1085.7 1521.5 1088.7 1520 1091.7C1518.5 1094.7 1517 1097.6 1515.5 1100.6C1514 1103.6 1512.5 1106.6 1510.9 1109.5C1509.4 1112.5 1507.8 1115.4 1506.2 1118.3C1504.6 1121.3 1503 1124.2 1501.4 1127.1C1499.7 1130 1498.1 1132.9 1496.4 1135.8C1494.8 1138.7 1493.1 1141.6 1491.4 1144.4C1489.7 1147.3 1488.1 1150.2 1486.3 1153C1484.6 1155.9 1482.8 1158.7 1481.1 1161.5C1479.3 1164.4 1477.5 1167.2 1475.7 1170C1473.8 1172.8 1472 1175.5 1470.2 1178.3C1468.3 1181.1 1466.5 1183.9 1464.6 1186.7C1462.8 1189.4 1460.9 1192.2 1459.1 1195C1457.2 1197.7 1455.3 1200.5 1453.4 1203.2C1451.5 1205.9 1449.6 1208.7 1447.7 1211.4C1445.7 1214.1 1443.8 1216.8 1441.9 1219.5C1439.9 1222.2 1437.9 1224.9 1435.9 1227.6C1433.9 1230.2 1431.9 1232.9 1429.8 1235.5C1427.7 1238.1 1425.6 1240.7 1423.5 1243.3C1421.4 1245.8 1419.2 1248.4 1417.1 1250.9C1414.9 1253.5 1412.7 1256 1410.5 1258.5C1408.3 1261 1406.1 1263.5 1403.9 1266C1401.7 1268.5 1399.5 1271 1397.3 1273.5C1395.1 1276 1393 1278.5 1390.8 1281.1C1388.6 1283.6 1386.4 1286.1 1384.2 1288.6C1382 1291.1 1379.7 1293.5 1377.4 1296C1375.1 1298.4 1372.8 1300.7 1370.4 1303C1368 1305.4 1365.5 1307.6 1363 1309.8C1360.5 1312 1358 1314.2 1355.4 1316.3C1352.9 1318.5 1350.3 1320.6 1347.7 1322.7C1345.1 1324.8 1342.5 1326.8 1339.9 1328.9C1337.2 1330.9 1334.6 1333 1331.9 1335C1329.2 1337 1326.5 1338.9 1323.8 1340.8C1321.1 1342.8 1318.4 1344.7 1315.6 1346.6C1312.8 1348.4 1310.1 1350.3 1307.3 1352.1C1304.5 1353.9 1301.6 1355.6 1298.8 1357.4C1295.9 1359.1 1293.1 1360.8 1290.2 1362.5C1287.3 1364.2 1284.4 1365.8 1281.5 1367.4C1278.6 1369 1275.6 1370.6 1272.7 1372.1C1269.7 1373.7 1266.7 1375.2 1263.7 1376.7C1260.8 1378.2 1257.8 1379.6 1254.8 1381.1C1251.8 1382.6 1248.8 1384 1245.8 1385.5C1242.8 1387 1239.9 1388.5 1236.9 1390C1233.9 1391.5 1230.9 1393 1228 1394.5C1225 1396 1222 1397.5 1219 1399C1216 1400.5 1213 1401.9 1210 1403.4C1207.1 1404.9 1204.1 1406.4 1201.1 1407.9C1198.1 1409.4 1195.2 1410.9 1192.2 1412.4C1189.2 1413.9 1186.2 1415.3 1183.1 1416.7C1180.1 1418.1 1177.1 1419.5 1174 1420.8C1170.9 1422 1167.8 1423.2 1164.6 1424.3C1161.5 1425.4 1158.3 1426.4 1155.1 1427.3C1151.9 1428.2 1148.7 1429.1 1145.5 1430C1142.2 1430.8 1138.5 1431.8 1135.8 1432.5C1133 1433.2 1130.1 1433.9 1129 1434.2" fill="none" stroke="#b4c531" stroke-width="5.7" stroke-linejoin="round" stroke-linecap="round"/>
<path d="M1088 1409.1C1091 1407.7 1100.2 1403.8 1106.3 1400.9C1112.3 1398.1 1118.3 1395.2 1124.2 1392.1C1130.1 1389 1135.9 1385.7 1141.5 1382.2C1147.2 1378.6 1152.6 1374.8 1157.9 1370.8C1163.2 1366.8 1168.3 1362.5 1173.3 1358.1C1178.3 1353.6 1183.1 1349 1187.8 1344.3C1192.5 1339.5 1197 1334.6 1201.4 1329.7C1205.9 1324.7 1210.2 1319.6 1214.4 1314.4C1218.6 1309.3 1222.7 1304 1226.7 1298.7C1230.7 1293.3 1234.6 1287.9 1238.4 1282.4C1242.2 1277 1245.9 1271.4 1249.5 1265.8C1253.1 1260.2 1256.6 1254.6 1260 1248.8C1263.4 1243.1 1266.8 1237.3 1270 1231.5C1273.2 1225.7 1276.3 1219.8 1279.3 1213.8C1282.4 1207.9 1285.3 1201.9 1288.3 1195.9C1291.2 1189.9 1294 1183.9 1296.8 1177.9C1299.6 1171.8 1302.4 1165.7 1305.1 1159.7C1307.8 1153.6 1310.5 1147.5 1313.1 1141.4C1315.8 1135.3 1318.5 1129.2 1321.1 1123C1323.7 1116.9 1326.3 1110.8 1328.8 1104.6C1331.2 1098.4 1333.5 1092.1 1335.7 1085.8C1337.8 1079.5 1339.8 1073.1 1341.7 1066.8C1343.6 1060.4 1345.4 1054 1347.2 1047.5C1349.1 1041.1 1350.9 1034.7 1352.7 1028.3C1354.5 1021.9 1356.4 1015.5 1358.2 1009.1C1360 1002.7 1361.7 996.2 1363.4 989.8C1365 983.3 1366.5 976.8 1367.8 970.3C1369.2 963.8 1370.4 956.7 1371.4 950.6C1372.4 944.5 1373.3 938.8 1373.8 933.8C1374.4 928.8 1374.6 924.5 1374.8 920.8C1374.9 917.2 1374.7 914.4 1374.6 911.9C1374.4 909.4 1374.1 907.7 1373.8 905.9C1373.5 904.1 1373.2 902.5 1372.7 901C1372.3 899.6 1371.7 898.3 1371.2 897.3C1370.6 896.3 1370 895.7 1369.3 895C1368.6 894.4 1367.7 893.8 1366.8 893.5C1365.9 893.1 1365 892.9 1363.9 892.9C1362.7 893 1361.5 893.2 1360 893.8C1358.5 894.4 1356.8 895.3 1354.7 896.7C1352.6 898.1 1350.5 899.4 1347.6 902.2C1344.7 904.9 1340.9 908.6 1337.5 913.2C1334 917.8 1330.1 924.3 1326.8 930C1323.5 935.8 1320.5 941.7 1317.6 947.7C1314.7 953.7 1312.2 959.9 1309.5 966C1306.9 972.2 1304.4 978.4 1301.9 984.5C1299.4 990.7 1296.9 996.9 1294.5 1003.1C1292 1009.3 1289.6 1015.5 1287.2 1021.7C1284.8 1027.9 1282.4 1034.2 1280.1 1040.4C1277.8 1046.7 1275.6 1053 1273.4 1059.2C1271.2 1065.5 1269 1071.8 1266.8 1078.1C1264.6 1084.4 1262.4 1090.7 1260 1096.9C1257.7 1103.2 1255.2 1109.4 1252.7 1115.5C1250.2 1121.7 1247.6 1127.8 1245 1134C1242.3 1140.1 1239.6 1146.2 1237 1152.3C1234.3 1158.4 1231.7 1164.5 1229 1170.6C1226.3 1176.7 1223.6 1182.8 1220.7 1188.8C1217.8 1194.8 1214.9 1200.8 1211.8 1206.7C1208.7 1212.6 1205.5 1218.4 1202.3 1224.3C1199 1230.1 1195.6 1235.8 1192.3 1241.6C1188.9 1247.3 1185.5 1253.1 1182 1258.8C1178.5 1264.4 1175.1 1270.1 1171.4 1275.7C1167.8 1281.3 1164 1286.8 1160.1 1292.2C1156.3 1297.6 1152.2 1302.9 1148.1 1308.1C1144 1313.4 1139.7 1318.5 1135.3 1323.5C1131 1328.6 1126.5 1333.6 1122 1338.5C1117.5 1343.4 1113 1348.3 1108.3 1353C1103.6 1357.8 1098.9 1362.5 1094.1 1367C1089.2 1371.6 1084.2 1376 1079.1 1380.3C1074 1384.6 1068.8 1388.7 1063.5 1392.7C1058.1 1396.7 1052.7 1400.6 1047.2 1404.3C1041.7 1408.1 1036.1 1411.7 1030.4 1415.2C1024.8 1418.7 1019 1422.2 1013.2 1425.4C1007.4 1428.6 1001.3 1431.8 995.5 1434.7C989.7 1437.6 981.3 1441.5 978.4 1442.9C982.7 1442 995 1439.4 1004 1437.3C1013 1435.2 1027.5 1431.4 1032.2 1430.2C1036 1428.8 1045.9 1425.1 1055.2 1421.6C1064.5 1418.1 1082.5 1411.2 1088 1409.1" fill="none" stroke="#64cc6e" stroke-width="5.7" stroke-linejoin="round" stroke-linecap="round"/>
<path d="M955.3 1417.8C958.3 1416.3 967.3 1412 973.2 1408.8C979 1405.6 984.8 1402.2 990.3 1398.6C995.9 1394.9 1001.3 1390.9 1006.4 1386.8C1011.6 1382.6 1016.6 1378.1 1021.4 1373.5C1026.2 1368.9 1030.8 1364 1035.2 1359C1039.6 1354 1043.7 1348.8 1047.7 1343.4C1051.6 1338 1055.3 1332.4 1058.7 1326.8C1062.2 1321.1 1065.4 1315.2 1068.5 1309.3C1071.5 1303.4 1074.4 1297.3 1077.2 1291.3C1080 1285.2 1082.7 1279.1 1085.3 1273C1087.9 1266.8 1090.4 1260.6 1092.8 1254.4C1095.2 1248.2 1097.5 1241.9 1099.7 1235.6C1101.9 1229.3 1104 1223 1106 1216.7C1108.1 1210.3 1110 1203.9 1112 1197.6C1113.9 1191.2 1115.9 1184.8 1117.7 1178.4C1119.6 1172 1121.5 1165.6 1123.3 1159.2C1125.1 1152.8 1126.9 1146.3 1128.6 1139.9C1130.3 1133.4 1131.9 1127 1133.5 1120.5C1135.1 1114 1136.6 1107.5 1138.1 1101C1139.7 1094.5 1141.3 1088.1 1142.8 1081.6C1144.4 1075.1 1146 1068.6 1147.5 1062.1C1149.1 1055.6 1150.6 1049.1 1151.9 1042.6C1153.2 1036.1 1154.5 1029.5 1155.6 1023C1156.7 1016.4 1157.6 1009.8 1158.5 1003.2C1159.4 996.5 1160.2 989.9 1160.8 983.2C1161.4 976.6 1162 969.9 1162.2 963.3C1162.4 956.6 1162.2 949.6 1161.8 943.3C1161.5 937 1161 930.5 1160.1 925.5C1159.3 920.4 1157.9 916.4 1156.7 912.9C1155.4 909.5 1154.2 907.2 1152.7 904.9C1151.1 902.5 1149.4 900.5 1147.4 898.8C1145.4 897.2 1143.1 895.7 1140.6 894.8C1138.2 893.9 1135.8 893.3 1132.9 893.3C1129.9 893.3 1127.1 893.5 1123 895C1119 896.4 1113.6 898.7 1108.6 902C1103.6 905.2 1097.9 909.9 1093.1 914.5C1088.4 919.1 1083.8 924 1080.1 929.4C1076.4 934.8 1073.8 941.1 1071 947.1C1068.2 953.2 1065.7 959.4 1063.3 965.6C1060.9 971.9 1058.7 978.2 1056.6 984.5C1054.4 990.8 1052.4 997.2 1050.4 1003.6C1048.4 1009.9 1046.5 1016.3 1044.7 1022.7C1042.8 1029.1 1041 1035.6 1039.2 1042C1037.4 1048.4 1035.7 1054.9 1033.9 1061.3C1032.2 1067.7 1030.4 1074.2 1028.7 1080.6C1027 1087.1 1025.3 1093.5 1023.5 1099.9C1021.8 1106.4 1020.1 1112.8 1018.3 1119.2C1016.5 1125.7 1014.6 1132.1 1012.7 1138.5C1010.9 1144.9 1008.9 1151.2 1007 1157.6C1005.1 1164 1003.2 1170.4 1001.3 1176.8C999.3 1183.2 997.4 1189.6 995.4 1195.9C993.4 1202.3 991.4 1208.6 989.2 1215C987.1 1221.3 984.9 1227.6 982.6 1233.8C980.3 1240.1 977.9 1246.3 975.4 1252.5C973 1258.7 970.4 1264.9 967.8 1271C965.1 1277.1 962.3 1283.2 959.4 1289.2C956.5 1295.2 953.5 1301.1 950.4 1307C947.3 1312.9 944.1 1318.8 940.8 1324.6C937.5 1330.4 934.1 1336.1 930.7 1341.8C927.2 1347.5 923.7 1353.2 920 1358.8C916.3 1364.3 912.5 1369.8 908.4 1375.1C904.3 1380.3 900 1385.4 895.5 1390.3C891 1395.2 886.2 1399.8 881.4 1404.4C876.6 1409 871.2 1413.8 866.6 1417.9C862 1421.9 857.4 1425.8 853.6 1428.8C849.8 1431.7 846.7 1433.7 843.8 1435.7C840.9 1437.7 838.4 1439.3 836.3 1440.7C834.2 1442.1 832.7 1443.1 831.3 1444C829.9 1445 828.9 1445.6 827.9 1446.2C826.9 1446.8 826.2 1447.2 825.3 1447.7C824.5 1448.2 823.4 1448.5 822.6 1449.1C821.9 1449.6 820.7 1450.4 820.7 1451C820.8 1451.5 822.1 1452.1 822.9 1452.4C823.8 1452.6 824.8 1452.5 826 1452.4C827.1 1452.4 828.1 1452.3 829.9 1452.1C831.8 1451.8 833.9 1451.5 836.9 1451C839.8 1450.5 842.9 1449.9 847.7 1448.9C852.4 1448 859.1 1446.5 865.3 1445.1C871.5 1443.7 879.9 1441.7 884.8 1440.6C889.6 1439.4 892.9 1438.7 894.5 1438.3C898.8 1436.6 910 1431.4 920.1 1428C930.2 1424.6 949.4 1419.5 955.3 1417.8" fill="none" stroke="#2ec2a4" stroke-width="5.7" stroke-linejoin="round" stroke-linecap="round"/>
<path d="M815.6 1426.5C818.6 1425 827.7 1420.8 833.4 1417.3C839.1 1413.9 844.5 1410 849.5 1405.7C854.5 1401.4 859.3 1396.7 863.6 1391.6C867.9 1386.6 871.7 1381.1 875.2 1375.5C878.7 1369.8 881.7 1363.8 884.5 1357.8C887.3 1351.8 889.6 1345.5 892 1339.2C894.3 1333 896.3 1326.6 898.4 1320.3C900.5 1313.9 902.4 1307.5 904.4 1301.2C906.3 1294.8 908.2 1288.4 910 1282C911.8 1275.5 913.6 1269.1 915.3 1262.7C917 1256.2 918.7 1249.8 920.4 1243.3C922 1236.9 923.6 1230.4 925.2 1223.9C926.8 1217.4 928.4 1211 929.9 1204.5C931.4 1198 932.9 1191.5 934.3 1185C935.6 1178.4 937 1171.9 938.2 1165.3C939.3 1158.8 940.4 1152.2 941.4 1145.6C942.4 1139 943.2 1132.4 944.1 1125.8C945 1119.2 945.7 1112.6 946.5 1105.9C947.3 1099.3 948.1 1092.7 948.9 1086.1C949.7 1079.5 950.5 1072.8 951.3 1066.2C952 1059.6 952.8 1053 953.5 1046.3C954.1 1039.7 954.8 1033.1 955.3 1026.4C955.8 1019.8 956.4 1013.1 956.6 1006.4C956.9 999.8 957.1 993.1 957 986.4C956.9 979.8 956.7 973 955.9 966.4C955.2 959.8 954.2 953.2 952.7 946.7C951.2 940.2 949.2 933.3 947 927.6C944.8 921.9 942.1 916.8 939.3 912.6C936.5 908.4 933.2 905 930 902.2C926.8 899.4 923.7 897.3 920 895.7C916.2 894.1 911.9 892.9 907.5 892.4C903.1 892 899 891.7 893.6 893C888.1 894.3 880.8 897.5 874.9 900.1C869 902.8 862.8 906.1 858 908.8C853.3 911.6 849.8 913.6 846.3 916.6C842.8 919.5 839.9 922 836.8 926.6C833.7 931.2 830.5 938.3 827.7 944.4C825 950.4 822.6 956.7 820.3 962.9C818 969.2 816 975.6 814 981.9C812 988.3 810.2 994.7 808.5 1001.2C806.7 1007.6 805.1 1014.1 803.5 1020.6C802 1027.1 800.6 1033.6 799.2 1040.1C797.9 1046.6 796.7 1053.2 795.6 1059.8C794.5 1066.3 793.4 1072.9 792.4 1079.5C791.3 1086.1 790.3 1092.7 789.3 1099.3C788.2 1105.8 787.1 1112.4 786 1119C784.9 1125.6 783.7 1132.1 782.5 1138.7C781.4 1145.2 780.2 1151.8 779 1158.4C777.9 1164.9 776.9 1171.5 775.8 1178.1C774.8 1184.7 773.8 1191.3 772.7 1197.9C771.7 1204.5 770.6 1211 769.4 1217.6C768.2 1224.2 767 1230.7 765.6 1237.2C764.2 1243.8 762.8 1250.3 761.2 1256.7C759.6 1263.2 757.8 1269.6 756 1276C754.2 1282.4 752.2 1288.8 750.2 1295.2C748.1 1301.5 746 1307.8 743.8 1314.1C741.6 1320.4 739.3 1326.7 736.9 1332.9C734.5 1339.1 732.1 1345.4 729.6 1351.5C727.1 1357.7 724.6 1363.9 721.9 1370C719.2 1376.1 716.5 1382.2 713.5 1388.2C710.5 1394.1 707.3 1400 703.9 1405.7C700.5 1411.3 696.2 1417.7 692.9 1422.3C689.6 1426.8 686.5 1430 683.8 1432.9C681.1 1435.9 678.8 1438.1 676.8 1440.1C674.8 1442 673.2 1443.5 671.7 1444.9C670.3 1446.3 669.1 1447.3 668 1448.3C666.9 1449.3 665.9 1450.2 665.1 1451C664.2 1451.8 663.6 1452.4 662.9 1453.1C662.2 1453.8 661.2 1454.5 660.9 1455.3C660.6 1456.1 660.8 1457.2 661.3 1457.9C661.8 1458.6 663 1459 663.9 1459.2C664.9 1459.5 665.8 1459.5 666.9 1459.5C668.1 1459.6 669.1 1459.5 670.9 1459.4C672.8 1459.3 674.9 1459.1 677.9 1458.7C680.9 1458.3 684 1457.9 688.8 1457.2C693.6 1456.4 700.3 1455.3 706.5 1454.1C712.8 1453 719.6 1451.6 726.2 1450.3C732.7 1449 741.2 1447.2 745.8 1446.3C750.3 1445.4 752.3 1445 753.6 1444.7C757 1443.4 763.8 1440 774.1 1437C784.4 1434 808.7 1428.2 815.6 1426.5" fill="none" stroke="#08b4cb" stroke-width="5.7" stroke-linejoin="round" stroke-linecap="round"/>
<path d="M532.8 1440.8C534 1440.2 537.7 1438.6 540 1437.2C542.3 1435.9 544.4 1434.7 546.4 1432.6C548.5 1430.5 550.5 1428.3 552.2 1424.6C554 1420.9 555.6 1416 556.7 1410.4C557.8 1404.7 558.3 1397.1 558.8 1390.5C559.3 1383.9 559.5 1377.2 559.7 1370.6C559.9 1363.9 559.8 1357.2 559.8 1350.5C559.8 1343.9 559.8 1337.2 559.7 1330.5C559.7 1323.8 559.7 1317.2 559.6 1310.5C559.6 1303.9 559.6 1297.2 559.5 1290.5C559.5 1283.9 559.5 1277.2 559.4 1270.5C559.4 1263.9 559.4 1257.2 559.3 1250.5C559.3 1243.9 559.3 1237.2 559.3 1230.5C559.2 1223.9 559.2 1217.2 559.2 1210.5C559.2 1203.9 559.1 1197.2 559.1 1190.5C559.1 1183.9 559.1 1177.2 559 1170.5C559 1163.9 559 1157.2 559 1150.5C558.9 1143.9 558.9 1137.2 558.8 1130.6C558.8 1123.9 558.7 1117.2 558.6 1110.6C558.5 1103.9 558.4 1097.2 558.2 1090.6C558.1 1083.9 558 1077.2 557.8 1070.6C557.6 1063.9 557.4 1057.2 557 1050.6C556.7 1043.9 556.3 1037.3 555.7 1030.6C555.1 1024 554.3 1017.4 553.4 1010.8C552.4 1004.2 551.3 997.6 549.8 991.1C548.4 984.5 546.8 978 544.8 971.7C542.8 965.3 540.6 959 537.8 952.9C535 946.9 531.8 941 528.1 935.6C524.3 930.1 520 924.9 515.3 920.3C510.6 915.7 505.3 911.4 499.8 907.8C494.3 904.1 488.3 900.8 482.2 898.4C476.1 896.1 469.5 894.5 463 893.6C456.5 892.7 449.7 892.8 443.1 893.2C436.5 893.6 429.8 894.6 423.2 895.9C416.7 897.2 410.1 899 403.8 901C397.4 903 390.9 905.7 385.1 908.2C379.3 910.7 373.7 913.1 369 916.2C364.3 919.2 360.6 921.9 356.9 926.5C353.3 931 349.9 937.7 347.2 943.7C344.5 949.7 342.6 956.2 340.8 962.6C338.9 969 337.5 975.5 336.2 982.1C334.9 988.6 333.9 995.2 332.9 1001.8C331.9 1008.4 331.1 1015.1 330.4 1021.7C329.6 1028.3 328.9 1035 328.3 1041.6C327.7 1048.2 327.2 1054.9 326.7 1061.5C326.3 1068.2 325.9 1074.8 325.5 1081.5C325.2 1088.1 324.9 1094.8 324.7 1101.5C324.5 1108.1 324.4 1114.8 324.3 1121.5C324.2 1128.1 324.1 1134.8 324.1 1141.5C324.1 1148.1 324.1 1154.8 324.1 1161.5C324.1 1168.1 324.1 1174.8 324.1 1181.4C324.1 1188.1 324.1 1194.8 324.2 1201.4C324.2 1208.1 324.2 1214.8 324.3 1221.4C324.3 1228.1 324.4 1234.8 324.4 1241.4C324.5 1248.1 324.5 1254.8 324.5 1261.4C324.6 1268.1 324.6 1274.8 324.7 1281.4C324.7 1288.1 324.8 1294.8 324.8 1301.4C324.9 1308.1 324.9 1314.8 325 1321.4C325 1328.1 325.1 1334.8 325.1 1341.4C325.2 1348.1 325.2 1354.7 325.2 1361.4C325.3 1368.1 325.3 1374.7 325.3 1381.4C325.3 1388.1 325.3 1394.7 325.3 1401.4C325.2 1408.1 325.2 1415.6 325.2 1421.4C325.2 1427.2 325.2 1432.1 325.2 1436.4C325.2 1440.7 325.2 1444.3 325.2 1447.4C325.3 1450.6 325.3 1453.3 325.4 1455.4C325.5 1457.6 325.5 1458.8 325.9 1460.4C326.2 1462 326.8 1463.6 327.5 1465C328.3 1466.5 329.2 1468 330.4 1469.1C331.5 1470.3 332.6 1471.2 334.4 1471.9C336.2 1472.7 338.2 1473.3 341.2 1473.7C344.1 1474 347.3 1474.3 352.1 1474.1C357 1473.9 363.8 1473.2 370.1 1472.5C376.4 1471.8 383.3 1470.7 389.9 1469.7C396.5 1468.7 403 1467.7 409.6 1466.6C416.2 1465.6 422.8 1464.5 429.4 1463.4C436 1462.4 442.5 1461.3 449.1 1460.3C455.7 1459.2 464.6 1457.8 468.9 1457.1C473.2 1456.5 473.8 1456.4 474.8 1456.2C478.1 1455.3 485.2 1453.7 494.9 1451.1C504.6 1448.5 526.5 1442.5 532.8 1440.8" fill="none" stroke="#3380f6" stroke-width="5.7" stroke-linejoin="round" stroke-linecap="round"/>
<path d="M676.3 1433.7C679 1431.8 687.8 1425.7 692.5 1422C697.3 1418.4 700.9 1416.2 704.6 1411.6C708.3 1407 711.8 1400.4 714.5 1394.4C717.2 1388.4 719.1 1382 721 1375.6C722.8 1369.2 724.3 1362.7 725.6 1356.2C727 1349.6 728 1343 729 1336.4C730.1 1329.8 731 1323.2 732 1316.6C732.9 1310 733.8 1303.4 734.7 1296.8C735.6 1290.2 736.5 1283.6 737.3 1277C738.2 1270.4 739 1263.8 739.8 1257.2C740.7 1250.5 741.5 1243.9 742.3 1237.3C743.1 1230.7 743.9 1224.1 744.6 1217.5C745.4 1210.8 746.2 1204.2 746.9 1197.6C747.6 1191 748.3 1184.3 749 1177.7C749.6 1171.1 750.2 1164.4 750.7 1157.8C751.3 1151.1 751.7 1144.5 752.1 1137.8C752.5 1131.2 752.9 1124.5 753.3 1117.9C753.6 1111.2 754 1104.6 754.4 1097.9C754.8 1091.3 755.3 1084.6 755.6 1078C756 1071.3 756.3 1064.7 756.5 1058C756.7 1051.3 756.8 1044.7 756.7 1038C756.6 1031.3 756.4 1024.7 756 1018C755.6 1011.4 755 1004.7 754.2 998.1C753.4 991.5 752.4 984.8 751.1 978.3C749.8 971.8 748.2 965.2 746.2 958.9C744.2 952.6 741.9 946.2 739 940.3C736.1 934.3 732.6 928.6 728.8 923.2C725 917.8 720.3 912 716.2 907.9C712.1 903.8 708.3 901.1 704.4 898.7C700.5 896.2 696.4 894.5 692.6 893.3C688.9 892 686.5 891.2 681.9 891.1C677.2 890.9 670.9 891.3 664.9 892.4C658.9 893.5 651.9 895.6 645.6 897.8C639.3 899.9 633.2 902.4 627.2 905.2C621.2 908.1 614.6 911.8 609.7 914.9C604.9 918.1 601.8 920 598.1 924.4C594.4 928.7 590.6 935.3 587.5 941.2C584.5 947 582.1 953.3 579.8 959.6C577.4 965.8 575.4 972.2 573.6 978.6C571.7 985 570.2 991.5 568.7 998C567.3 1004.5 566.1 1011.1 565 1017.7C563.8 1024.2 562.9 1030.8 562.1 1037.4C561.2 1044.1 560.5 1050.7 559.9 1057.3C559.2 1063.9 558.7 1070.6 558.2 1077.2C557.6 1083.9 557 1090.5 556.4 1097.1C555.7 1103.8 554.9 1110.4 554.2 1117C553.4 1123.6 552.7 1130.2 552.1 1136.9C551.5 1143.5 551.1 1150.2 550.6 1156.8C550.2 1163.4 549.8 1170.1 549.4 1176.8C549 1183.4 548.6 1190.1 548.1 1196.7C547.6 1203.4 547.1 1210 546.5 1216.6C545.9 1223.3 545.3 1229.9 544.7 1236.6C544.1 1243.2 543.4 1249.8 542.7 1256.4C542 1263.1 541.2 1269.7 540.4 1276.3C539.5 1282.9 538.6 1289.5 537.6 1296.1C536.6 1302.7 535.5 1309.3 534.4 1315.8C533.3 1322.4 532.1 1329 530.9 1335.5C529.7 1342.1 528.6 1348.7 527.3 1355.2C526.1 1361.7 524.8 1368.3 523.4 1374.8C522 1381.3 520.5 1387.8 518.9 1394.3C517.3 1400.7 515.3 1407.8 513.6 1413.6C511.9 1419.3 510.2 1424.5 508.8 1428.8C507.4 1433.1 506.2 1436.2 505.1 1439.2C504 1442.1 503.1 1444.5 502.2 1446.6C501.3 1448.8 500.5 1450.6 499.8 1452.1C499.1 1453.6 498.6 1454.6 498 1455.7C497.5 1456.7 497 1457.4 496.5 1458.3C496.1 1459.2 495.6 1460.1 495.4 1461.1C495.3 1462 495.1 1463.2 495.5 1464C495.8 1464.8 496.7 1465.5 497.5 1466C498.4 1466.4 499.3 1466.5 500.4 1466.7C501.6 1466.8 502.8 1466.8 504.4 1466.8C506.1 1466.7 507.8 1466.6 510.4 1466.4C513.1 1466.2 515.9 1465.9 520.4 1465.4C524.8 1464.8 531.1 1464 537.2 1463.1C543.3 1462.2 550.4 1461.1 557 1460.1C563.6 1459 570.1 1458 576.7 1456.9C583.3 1455.9 590 1454.8 596.5 1453.7C602.9 1452.6 612.1 1451.1 615.2 1450.6C618.6 1449.4 625.5 1446.2 635.7 1443.4C645.9 1440.6 669.5 1435.3 676.3 1433.7" fill="none" stroke="#259fe3" stroke-width="5.7" stroke-linejoin="round" stroke-linecap="round"/>
<circle cx="324.1" cy="1169.4" r="9.5" fill="#fff" stroke="#3380f6" stroke-width="3.4"/>
<circle cx="550" cy="1168.1" r="9.5" fill="#fff" stroke="#259fe3" stroke-width="3.4"/>
<circle cx="777.5" cy="1166.1" r="9.5" fill="#fff" stroke="#08b4cb" stroke-width="3.4"/>
<circle cx="1005" cy="1163.8" r="9.5" fill="#fff" stroke="#2ec2a4" stroke-width="3.4"/>
<circle cx="1232.7" cy="1161.7" r="9.5" fill="#fff" stroke="#64cc6e" stroke-width="3.4"/>
<circle cx="1459.7" cy="1158.5" r="9.5" fill="#fff" stroke="#b4c531" stroke-width="3.4"/>
<circle cx="532.8" cy="1440.8" r="9.3" fill="#3380f6"/>
<circle cx="676.3" cy="1433.7" r="9.3" fill="#3380f6"/>
<circle cx="815.6" cy="1426.5" r="9.3" fill="#08b4cb"/>
<circle cx="955.3" cy="1417.8" r="9.3" fill="#2ec2a4"/>
<circle cx="1088" cy="1409.1" r="9.3" fill="#64cc6e"/>
<circle cx="1217.1" cy="1399.9" r="9.3" fill="#b4c531"/>
<line x1="447.4" y1="870.5" x2="380.7" y2="887.8" stroke="#3380f6" stroke-width="3.9"/><path d="M358.9 893.5L381.2 877.9L380.7 887.8L386 896.3Z" fill="#3380f6"/>
<line x1="657.6" y1="869.7" x2="601.7" y2="895.7" stroke="#259fe3" stroke-width="3.9"/><path d="M581.3 905.2L600.4 885.8L601.7 895.7L608.4 903.1Z" fill="#259fe3"/>
<line x1="888.3" y1="873" x2="844.9" y2="896.3" stroke="#08b4cb" stroke-width="3.9"/><path d="M825.1 906.9L843.1 886.5L844.9 896.3L852.1 903.2Z" fill="#08b4cb"/>
<line x1="1115.3" y1="871.7" x2="1077.3" y2="898.8" stroke="#2ec2a4" stroke-width="3.9"/><path d="M1059 911.9L1074.2 889.4L1077.3 898.8L1085.3 904.8Z" fill="#2ec2a4"/>
<line x1="1349.5" y1="877.2" x2="1321.1" y2="904.4" stroke="#64cc6e" stroke-width="3.9"/><path d="M1304.9 920L1316.7 895.5L1321.1 904.4L1329.9 909.2Z" fill="#64cc6e"/>
<line x1="1564.5" y1="897.3" x2="1540.2" y2="947" stroke="#b4c531" stroke-width="3.9"/><path d="M1530.3 967.2L1533 940.1L1540.2 947L1550 948.5Z" fill="#b4c531"/>
<text class="b" transform="translate(444.3 829.8) scale(0.92 1)" font-size="46.6" text-anchor="middle" fill="#3380f6">0</text>
<text class="b" transform="translate(668 829.8) scale(0.92 1)" font-size="46.6" text-anchor="middle" fill="#259fe3">0.2</text>
<text class="b" transform="translate(895.8 829.8) scale(0.92 1)" font-size="46.6" text-anchor="middle" fill="#08b4cb">0.4</text>
<text class="b" transform="translate(1125.2 829.8) scale(0.92 1)" font-size="46.6" text-anchor="middle" fill="#2ec2a4">0.6</text>
<text class="b" transform="translate(1349.2 829.8) scale(0.92 1)" font-size="46.6" text-anchor="middle" fill="#64cc6e">0.8</text>
<text class="b" transform="translate(1586.3 829.8) scale(0.92 1)" font-size="46.6" text-anchor="middle" fill="#b4c531">1</text>
<text class="ser" x="235" y="828.7" font-size="42.8" fill="#000" stroke="#000" stroke-width="0.9" font-weight="bold" font-style="italic" textLength="103.5" lengthAdjust="spacingAndGlyphs">NCVF</text>
<text class="b" transform="translate(334.6 828.9) scale(0.86 1)" font-size="43" fill="#000">:</text>
<circle cx="1542.3" cy="1361.7" r="7.9" fill="#fff" stroke="#000" stroke-width="3.2"/>
<circle cx="1542.3" cy="1395.8" r="9.6" fill="#000"/>
<text x="1560.9" y="1370.6" font-size="35.3" fill="#000" stroke="#000" stroke-width="0.3">es</text>
<text x="1560.9" y="1405.6" font-size="35.3" fill="#000" stroke="#000" stroke-width="0.3">ed</text>
</svg></body></html>
